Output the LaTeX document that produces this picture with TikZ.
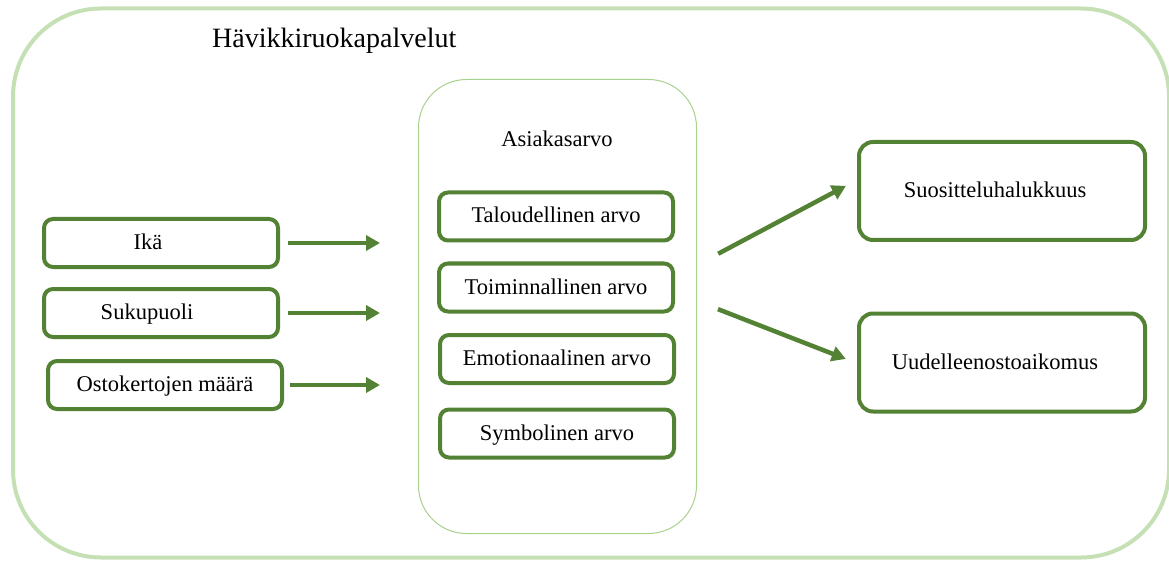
\documentclass[tikz,border=0pt]{standalone}
\usepackage{fontspec}
\setmainfont{Liberation Serif}
\usepackage{tikz}
\usetikzlibrary{arrows.meta,positioning,calc}
\usepackage{xcolor}
\definecolor{darkgreen}{RGB}{84,130,53}
\definecolor{palegreen}{RGB}{197,224,180}
\definecolor{softgreen}{RGB}{169,209,142}
\tikzset{
  factor/.style={rectangle,draw=darkgreen,line width=4pt,rounded corners=9pt,minimum width=234pt,minimum height=48pt,inner sep=0pt,text height=18pt,text depth=5pt,font=\fontsize{22.5}{27}\selectfont},
  outcome/.style={factor,rounded corners=14pt,minimum width=286pt,minimum height=98pt},
  caption/.style={inner sep=0pt,font=\fontsize{22.5}{27}\selectfont},
  arrowline/.style={->,draw=darkgreen,line width=4.5pt},
}

\begin{document}
\begin{tikzpicture}[x=1pt,y=-1pt,>={Triangle[length=14pt,width=15pt]},node distance=19pt]
  \useasboundingbox (0,0) rectangle (1169,561);
  \node[draw=palegreen,line width=4pt,rounded corners=88pt,minimum width=1156pt,minimum height=549pt] (frame) at (591,283) {};
  \node[caption,anchor=base west,font=\fontsize{28}{34}\selectfont] (title) at (212,48) {Hävikkiruokapalvelut};
  \node[draw=softgreen,line width=1pt,rounded corners=48pt,minimum width=278pt,minimum height=454pt] (asiakas) at (557.5,306.5) {};
  \node[caption,anchor=base] (asiakaslabel) at (557,147) {Asiakasarvo};
  \node[factor] (ika) at (161,243) {\hspace*{-26pt}Ikä};
  \node[factor,below=18pt of ika] (suku) {\hspace*{-28pt}Sukupuoli};
  \node[factor,below=20pt of suku,xshift=4pt] (ostot) {Ostokertojen määrä};
  \node[factor] (talous) at (556,216.5) {Taloudellinen arvo};
  \node[factor,below=of talous] (toiminta) {Toiminnallinen arvo};
  \node[factor,below=19.5pt of toiminta,xshift=1pt] (tunne) {Emotionaalinen arvo};
  \node[factor,below=22.5pt of tunne] (symboli) {Symbolinen arvo};
  \node[outcome] (suositus) at (1002,191) {\hspace*{-14pt}Suositteluhalukkuus};
  \node[outcome] (uusinta) at (1002,362.5) {\hspace*{-14pt}Uudelleenostoaikomus};
  \draw[arrowline,shorten <=8pt,shorten >=38pt] (ika) -- (asiakas.west |- ika);
  \draw[arrowline,shorten <=8pt,shorten >=38pt] (suku) -- (asiakas.west |- suku);
  \draw[arrowline,shorten <=6pt,shorten >=38pt] (ostot) -- (asiakas.west |- ostot);
  \draw[arrowline,shorten <=24pt,shorten >=12.5pt] (asiakas.east |- 0,265) -- (suositus.west |- 0,180);
  \draw[arrowline,shorten <=22.5pt,shorten >=12pt] (asiakas.east |- 0,301) -- (uusinta.west |- 0,363.3);
\end{tikzpicture}
\end{document}
